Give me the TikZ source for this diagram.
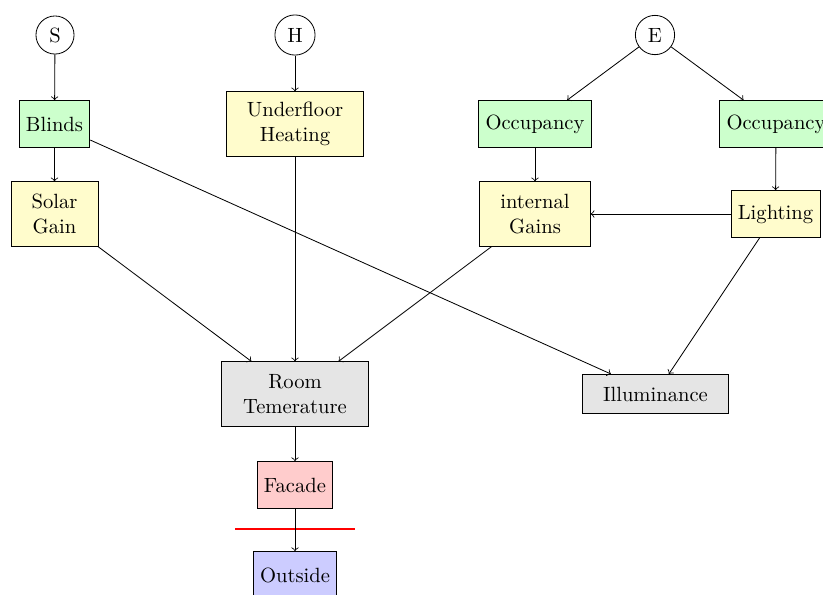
\documentclass[tikz,border=0pt]{standalone}
\begin{document}
\begin{tikzpicture}[x=0.48544pt,y=-0.48544pt,
  circ/.style={circle,draw},
  gbox/.style={draw,fill=green!20,minimum height=0.8cm},
  lbox/.style={draw,fill=yellow!20,minimum height=0.8cm},
  ybox/.style={draw,fill=yellow!20,align=center,inner xsep=10pt,inner ysep=4pt,minimum height=1.1cm},
  grbox/.style={draw,fill=gray!20,align=center,inner xsep=10pt,inner ysep=4pt,minimum width=2.5cm,minimum height=1.1cm},
  rbox/.style={draw,fill=red!20,minimum height=0.8cm},
  bbox/.style={draw,fill=blue!20,minimum height=0.8cm},
  conn/.style={->},
  cutline/.style={red,thick}]
\clip (0,0) rectangle (823,594);
\node[circ] (S) at (55,35) {S};
\node[circ] (H) at (295,35) {H};
\node[circ] (E) at (655,35) {E};
\node[gbox] (blinds) at (54.5,124) {Blinds};
\node[ybox] (solar) at (54.5,214) {Solar\\Gain};
\node[ybox] (ufh) at (295,124) {Underfloor\\Heating};
\node[gbox] (occ1) at (535,124) {Occupancy};
\node[gbox] (occ2) at (776,124) {Occupancy};
\node[ybox] (intg) at (535,214) {internal\\Gains};
\node[lbox] (light) at (775.5,214) {Lighting};
\node[grbox] (room) at (295,394) {Room\\Temerature};
\node[grbox,minimum height=0pt,inner ysep=6pt] (illum) at (655.5,394) {Illuminance};
\node[rbox] (facade) at (295,485) {Facade};
\node[bbox] (outside) at (295,575) {Outside};
\coordinate (cl) at (235,529);
\coordinate (cr) at (355,529);
\draw[cutline] (cl) -- (cr);
\draw[conn] (S) -- (blinds);
\draw[conn] (blinds) -- (solar);
\draw[conn] (H) -- (ufh);
\draw[conn] (ufh) -- (room);
\draw[conn] (solar) -- (room);
\draw[conn] (intg) -- (room);
\draw[conn] (room) -- (facade);
\draw[conn] (facade) -- (outside);
\draw[conn] (E) -- (occ1);
\draw[conn] (E) -- (occ2);
\draw[conn] (occ1) -- (intg);
\draw[conn] (occ2) -- (light);
\draw[conn] (light) -- (intg);
\draw[conn] (light) -- (illum);
\draw[conn] (blinds) -- (illum);
\end{tikzpicture}
\end{document}
